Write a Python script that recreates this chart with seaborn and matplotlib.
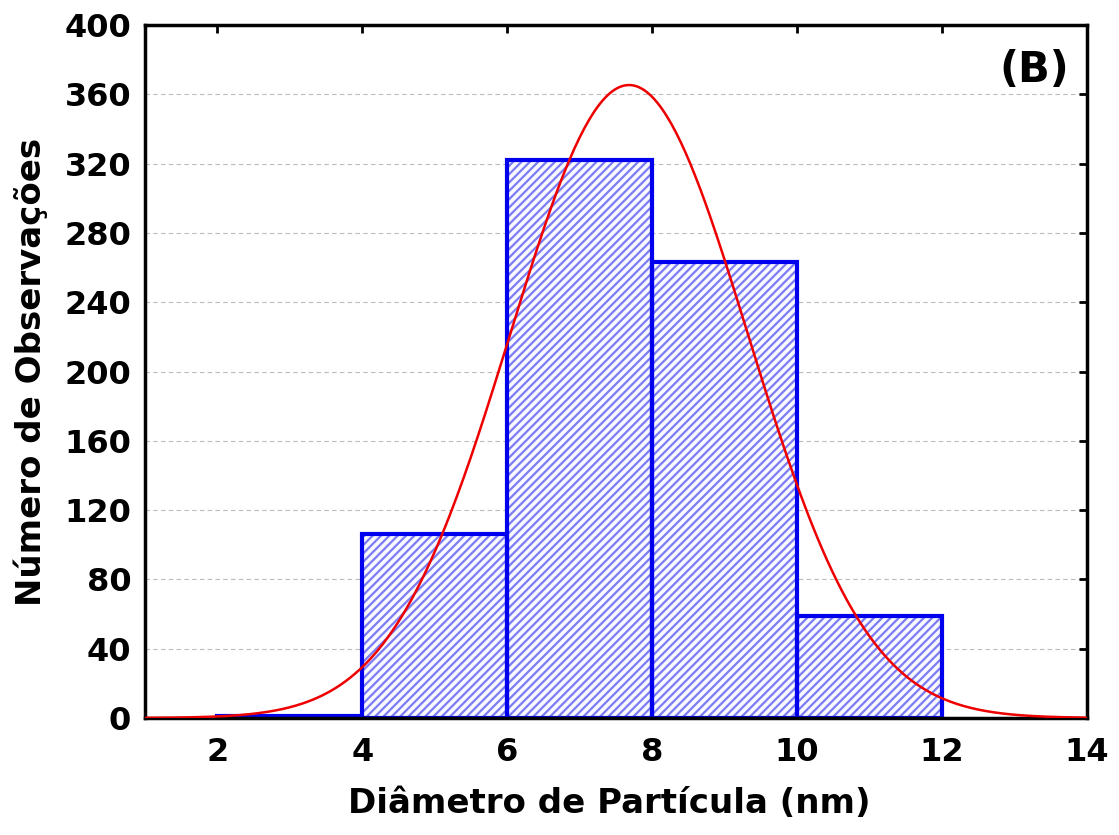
import numpy as np
import matplotlib
matplotlib.use("Agg")
import matplotlib.pyplot as plt
import seaborn as sns

# Data
bin_edges = [2, 4, 6, 8, 10, 12]
bin_counts = [1, 106, 322, 263, 59]
fit_mean = 7.68
fit_sd = 1.64
y_ticks = [0, 40, 80, 120, 160, 200, 240, 280, 320, 360, 400]
x_ticks = [2, 4, 6, 8, 10, 12, 14]

sns.set_theme(style="white")
plt.rcParams['font.family'] = ['DejaVu Sans']
plt.rcParams['hatch.linewidth'] = 1.6
plt.rcParams['text.color'] = 'black'
plt.rcParams['axes.labelcolor'] = 'black'

fig = plt.figure(figsize=(11.19, 8.35), dpi=100)
ax = fig.add_axes([0.1296, 0.1401, 0.9714 - 0.1296, 0.970 - 0.1401])

centers = [(a + b) / 2 for a, b in zip(bin_edges[:-1], bin_edges[1:])]
# hatched fill (hatch colour follows edge colour)
sns.histplot(x=centers, weights=bin_counts, bins=bin_edges, ax=ax,
             color="#f8f8ff", edgecolor="#7c7cf4", linewidth=0, alpha=1, zorder=2)
for p in ax.patches:
    p.set_hatch("////")
    p.set_facecolor("#f8f8ff")
n_fill = len(ax.patches)
# outline
sns.histplot(x=centers, weights=bin_counts, bins=bin_edges, ax=ax, fill=False,
             element="bars", edgecolor="#0000ee", linewidth=3, zorder=2.5)
for p in ax.patches[n_fill:]:
    p.set_edgecolor("#0000ee")
    p.set_facecolor("none")

n_total = sum(bin_counts)
bw = bin_edges[1] - bin_edges[0]
xs = np.linspace(1, 14, 400)
ys = n_total * bw * np.exp(-0.5 * ((xs - fit_mean) / fit_sd) ** 2) / (fit_sd * np.sqrt(2 * np.pi))
sns.lineplot(x=xs, y=ys, ax=ax, color="#ee0000", linewidth=1.8, zorder=3)

ax.set_xlim(1, 14)
ax.set_ylim(0, 400)
ax.set_xticks(x_ticks)
ax.set_yticks(y_ticks)
ax.yaxis.grid(True, linestyle=(0, (4, 3)), color="#bbbbbb", linewidth=0.8)
ax.set_axisbelow(True)
for s in ax.spines.values():
    s.set_color("black")
    s.set_linewidth(2.5)
ax.tick_params(direction="in", length=6, width=2, top=True, right=True,
               labelsize=23, colors="black")
ax.tick_params(axis="y", pad=10)
ax.tick_params(axis="x", pad=14)
for lab in ax.get_xticklabels() + ax.get_yticklabels():
    lab.set_fontweight("bold")
ax.set_xlabel("Diâmetro de Partícula (nm)", fontsize=24.5, fontweight="bold",
              labelpad=12, color="black")
ax.xaxis.set_label_coords(0.4925, -0.1)
ax.set_ylabel("Número de Observações", fontsize=24.5, fontweight="bold",
              labelpad=12, color="black")
ax.text(0.981, 0.935, "(B)", transform=ax.transAxes, ha="right", va="center",
        fontsize=30, fontweight="bold", color="black")

fig.savefig("out.png", dpi=100)
